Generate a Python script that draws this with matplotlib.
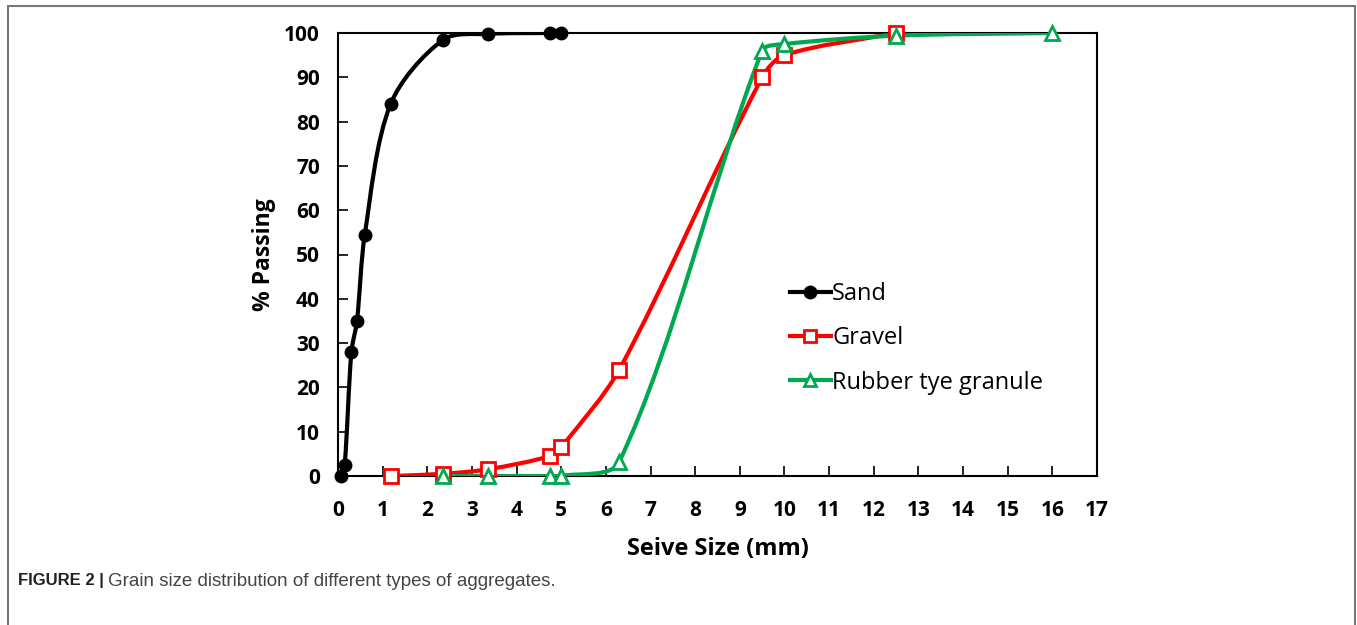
import numpy as np
import matplotlib.pyplot as plt
from matplotlib.path import Path
from matplotlib.patches import PathPatch, Rectangle

# sieve sizes (mm) and % passing
sand_x = [0.075, 0.15, 0.3, 0.425, 0.6, 1.18, 2.36, 3.35, 4.75, 5.0]
sand_y = [0.0, 2.5, 28.0, 35.0, 54.5, 84.0, 98.5, 99.8, 100.0, 100.0]

gravel_x = [1.18, 2.36, 3.35, 4.75, 5.0, 6.3, 9.5, 10.0, 12.5]
gravel_y = [0.0, 0.5, 1.5, 4.5, 6.5, 24.0, 90.0, 95.0, 100.0]

rubber_x = [2.36, 3.35, 4.75, 5.0, 6.3, 9.5, 10.0, 12.5, 16.0]
rubber_y = [0.0, 0.0, 0.0, 0.0, 3.2, 96.0, 97.5, 99.4, 100.0]

labels = ["Sand", "Gravel", "Rubber tye granule"]
colors = ["#000000", "#ff0000", "#00a84f"]
markers = ["o", "s", "^"]

xticks = list(range(0, 18))
yticks = list(range(0, 101, 10))

FONT = "Open Sans"
YSCALE = 4.43 / 44.65  # px per % over px per mm, so tangents work in screen space


def smooth_path(xs, ys, k=0.3):
    # smoothed line like excel: bezier segments, tangents from neighbours
    pts = np.column_stack([xs, np.array(ys) * YSCALE])
    n = len(pts)
    tang = []
    for i in range(n):
        a = pts[max(i - 1, 0)]
        b = pts[min(i + 1, n - 1)]
        d = b - a
        tang.append(d / (np.hypot(*d) + 1e-12))
    verts = [pts[0]]
    codes = [Path.MOVETO]
    for i in range(n - 1):
        L = np.hypot(*(pts[i + 1] - pts[i]))
        c1 = pts[i] + tang[i] * L * k
        c2 = pts[i + 1] - tang[i + 1] * L * k
        verts += [c1, c2, pts[i + 1]]
        codes += [Path.CURVE4] * 3
    verts = np.array(verts)
    verts[:, 1] /= YSCALE
    return Path(verts, codes)


fig = plt.figure(figsize=(13.57, 6.25), dpi=100)
W, H = 1357, 625
ax = fig.add_axes([338 / W, 1 - 476 / H, (1097 - 338) / W, (476 - 33) / H])

series = [(sand_x, sand_y), (gravel_x, gravel_y), (rubber_x, rubber_y)]
for (xs, ys), lab, c, m in zip(series, labels, colors, markers):
    patch = PathPatch(smooth_path(xs, ys), facecolor="none", edgecolor=c, lw=3, zorder=3)
    ax.add_patch(patch)
    if m == "o":
        ax.plot(xs, ys, ls="none", marker=m, ms=9, color=c, zorder=4, clip_on=False)
    else:
        ax.plot(xs, ys, ls="none", marker=m, ms=10, mfc="white", mec=c, mew=2,
                zorder=4, clip_on=False)

# legend proxies
handles = []
for lab, c, m in zip(labels, colors, markers):
    if m == "o":
        h, = ax.plot([], [], color=c, lw=3, marker=m, ms=9, label=lab)
    else:
        h, = ax.plot([], [], color=c, lw=3, marker=m, ms=8, mfc="white", mec=c, mew=2, label=lab)
    handles.append(h)
leg = ax.legend(handles=handles, loc="upper left", bbox_to_anchor=(0.567, 0.485),
                frameon=False, handlelength=1.75, handletextpad=0.05, labelspacing=0.85,
                prop={"family": FONT, "size": 17})

ax.set_xlim(0, 17)
ax.set_ylim(0, 100)
ax.set_xticks(xticks)
ax.set_yticks(yticks)
ax.tick_params(direction="in", length=7, width=1.2, top=False, right=False,
               pad=13, labelsize=15)
ax.tick_params(axis="x", pad=17)
for t in ax.get_xticklabels() + ax.get_yticklabels():
    t.set_fontfamily(FONT)
    t.set_fontweight("bold")
for s in ax.spines.values():
    s.set_linewidth(1.5)

ax.set_xlabel("Seive Size (mm)", fontsize=17, fontweight="bold", family=FONT, labelpad=12)
ax.set_ylabel("% Passing", fontsize=16.5, fontweight="bold", family=FONT, labelpad=6)

# frame around the figure (bottom edge is cut off)
fig.patches.append(Rectangle((8 / W, -0.05), (1355 - 8) / W, 1.05 - 6 / H,
                             transform=fig.transFigure, fill=False,
                             edgecolor="#777777", lw=1.5))

# caption: bold tag, then the text right after it
cap1 = fig.text(18 / W, 1 - 581 / H, "FIGURE 2 |", fontsize=12, fontweight="bold",
                family="Liberation Sans", color="#222222", va="center")
ax.annotate("Grain size distribution of different types of aggregates.",
            xy=(1, 0.5), xycoords=cap1, xytext=(3, 0), textcoords="offset points",
            va="center", ha="left", fontsize=13.5, family="Liberation Sans",
            color="#444444", annotation_clip=False)

fig.savefig("out.png", dpi=100)
